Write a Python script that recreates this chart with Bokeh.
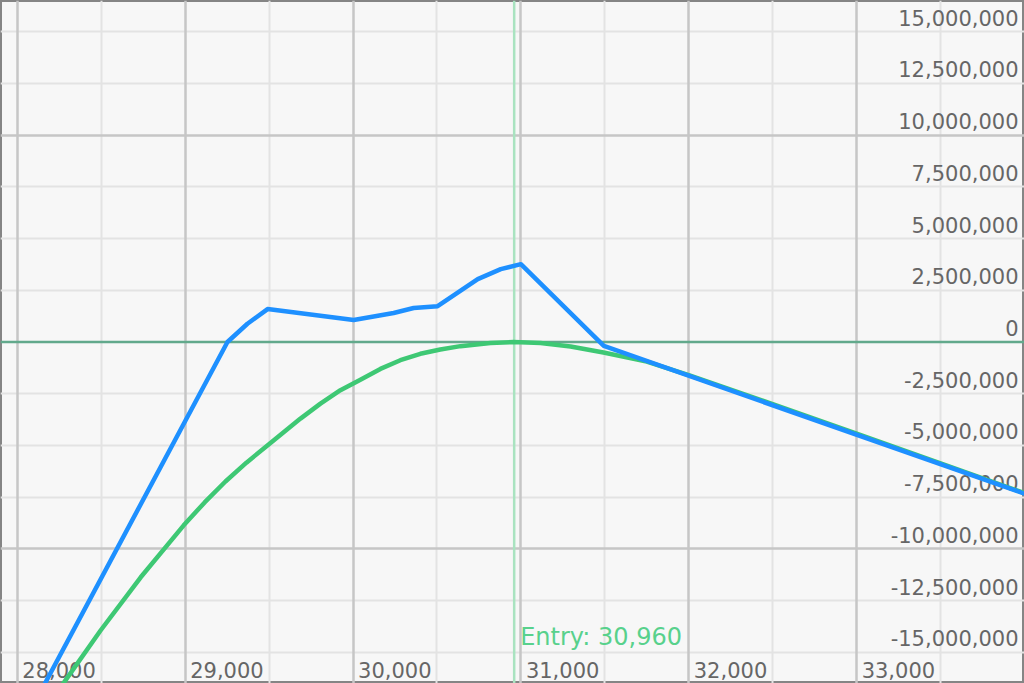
from bokeh.plotting import figure
from bokeh.models import Range1d, Grid, FixedTicker, Span
from bokeh.core.properties import value
from bokeh.embed import file_html
from bokeh.resources import INLINE

# ---------------- data ----------------
x_start, x_end = 27900, 34000
y_start, y_end = -16_500_000, 16_500_000

entry_price = 30960
entry_label = "Entry: 30,960"

# P&L at expiry (blue)
blue_x = [28000, 29252, 29371, 29491, 30004, 30242, 30361, 30504, 30743, 30880, 31000, 31494, 34000]
blue_y = [-19_000_000, 0, 880_000, 1_590_000, 1_060_000, 1_400_000, 1_640_000, 1_730_000,
          3_040_000, 3_520_000, 3_760_000, -190_000, -7_330_000]

# current P&L curve (green)
green_x = [28200, 28287, 28496, 28734, 28990, 29116, 29240, 29365, 29490, 29687, 29806, 29925,
           30044, 30163, 30282, 30401, 30520, 30640, 30819, 30956, 31117, 31296, 31492, 31750,
           32000, 32500, 33000, 33500, 34000]
green_y = [-17_350_000, -16_350_000, -13_940_000, -11_380_000, -8_870_000, -7_750_000, -6_740_000,
           -5_830_000, -5_000_000, -3_700_000, -2_980_000, -2_330_000, -1_820_000, -1_300_000,
           -880_000, -570_000, -360_000, -200_000, -50_000, 0, -50_000, -220_000,
           -510_000, -950_000, -1_600_000, -3_000_000, -4_430_000, -5_870_000, -7_300_000]

x_major = [28000, 29000, 30000, 31000, 32000, 33000, 34000]
x_minor = [27500, 28500, 29500, 30500, 31500, 32500, 33500]
x_tick_labels = ["28,000", "29,000", "30,000", "31,000", "32,000", "33,000"]
x_label_pos = [28000, 29000, 30000, 31000, 32000, 33000]

y_major = [-20_000_000, -10_000_000, 10_000_000, 20_000_000]
y_minor = [-15_000_000, -12_500_000, -7_500_000, -5_000_000, -2_500_000,
           2_500_000, 5_000_000, 7_500_000, 12_500_000, 15_000_000]
y_label_pos = [15_000_000, 12_500_000, 10_000_000, 7_500_000, 5_000_000, 2_500_000, 0,
               -2_500_000, -5_000_000, -7_500_000, -10_000_000, -12_500_000, -15_000_000]
y_tick_labels = ["15,000,000", "12,500,000", "10,000,000", "7,500,000", "5,000,000", "2,500,000", "0",
                 "-2,500,000", "-5,000,000", "-7,500,000", "-10,000,000", "-12,500,000", "-15,000,000"]

# ---------------- figure ----------------
p = figure(width=1024, height=683,
           x_range=Range1d(x_start, x_end), y_range=Range1d(y_start, y_end),
           x_axis_type=None, y_axis_type=None,
           output_backend="svg", toolbar_location=None, min_border=0,
           background_fill_color="#f7f7f7", border_fill_color="#f7f7f7",
           outline_line_color="#858585", outline_line_width=3)

for dim, ticks, color, width in [
    (0, x_minor, "#e3e3e3", 2),
    (1, y_minor, "#e3e3e3", 2),
    (0, x_major, "#c6c6c6", 2.5),
    (1, y_major, "#c6c6c6", 2.5),
]:
    p.add_layout(Grid(dimension=dim, ticker=FixedTicker(ticks=ticks),
                      grid_line_color=color, grid_line_width=width))

p.add_layout(Span(location=0, dimension="width", line_color="#62a98c",
                  line_width=2.5, level="underlay"))
p.add_layout(Span(location=entry_price, dimension="height", line_color="#a9e3c0",
                  line_width=2.5, level="underlay"))

font = value("DejaVu Sans")

# y tick labels (inside, right side)
p.text(x=[x_end] * len(y_label_pos), y=y_label_pos, text=y_tick_labels,
       text_font=font, text_font_size="21px", text_color="#666666",
       text_align="right", text_baseline="alphabetic", x_offset=-6, y_offset=-14)

# x tick labels (inside, bottom)
p.text(x=x_label_pos, y=[y_start] * len(x_label_pos), text=x_tick_labels,
       text_font=font, text_font_size="21px", text_color="#666666",
       text_align="left", text_baseline="alphabetic", x_offset=5, y_offset=-14)

# entry label
p.text(x=[entry_price], y=[y_start], text=[entry_label],
       text_font=font, text_font_size="24px", text_color="#58d18c",
       text_align="left", text_baseline="alphabetic", x_offset=6, y_offset=-47)

p.line(green_x, green_y, line_color="#3ec874", line_width=4.5, line_join="round")
p.line(blue_x, blue_y, line_color="#1e90ff", line_width=4.5, line_join="round")

html = file_html(p, INLINE, title="P&L chart")
html = html.replace("<head>", "<head><style>html,body{margin:0;padding:0;overflow:hidden;background:#f7f7f7}</style>", 1)
open("out.html", "w").write(html)
